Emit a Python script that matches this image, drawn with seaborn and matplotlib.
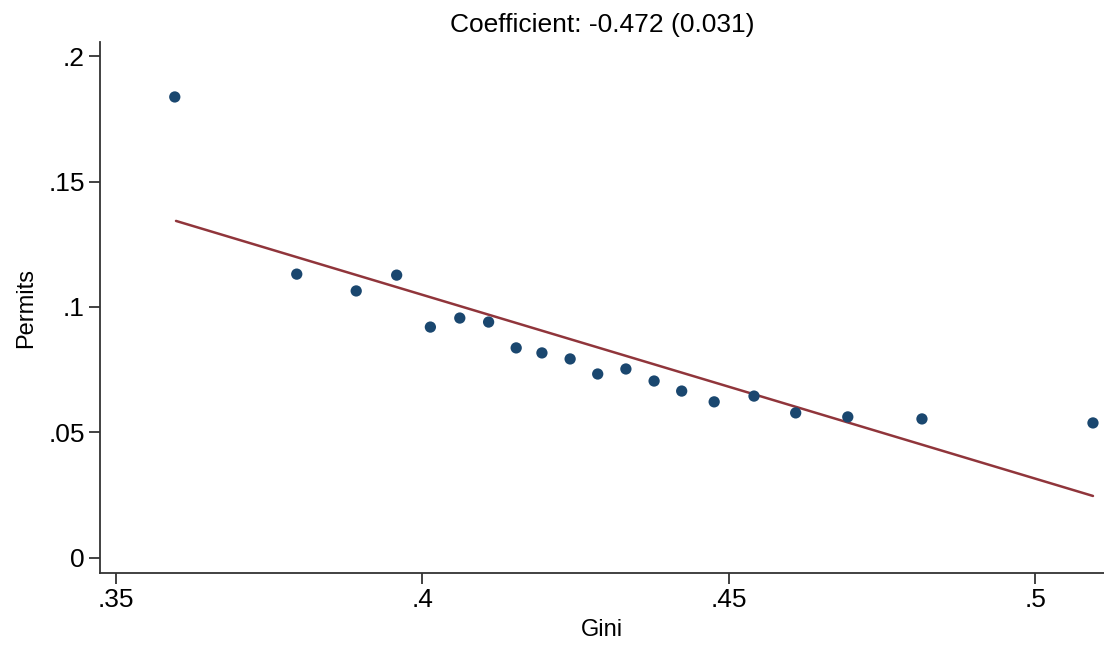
import matplotlib
matplotlib.use("Agg")
import matplotlib.pyplot as plt
import seaborn as sns
import pandas as pd

gini = [0.3596, 0.3795, 0.3892, 0.3958, 0.4013, 0.4061, 0.4108, 0.4153, 0.4195, 0.4241,
        0.4286, 0.4332, 0.4378, 0.4423, 0.4476, 0.4541, 0.4609, 0.4694, 0.4815, 0.5094]
permits = [0.1837, 0.1131, 0.1064, 0.1127, 0.0920, 0.0956, 0.0940, 0.0837, 0.0817, 0.0793,
           0.0733, 0.0753, 0.0705, 0.0665, 0.0622, 0.0645, 0.0578, 0.0562, 0.0554, 0.0538]
fit_x = [0.3598, 0.5094]
fit_y = [0.1343, 0.0247]
xticks = [0.35, 0.40, 0.45, 0.50]
xticklabels = [".35", ".4", ".45", ".5"]
yticks = [0.0, 0.05, 0.10, 0.15, 0.20]
yticklabels = ["0", ".05", ".1", ".15", ".2"]
title = "Coefficient: -0.472 (0.031)"

sns.set_style("white")
plt.rcParams['font.family'] = ['Liberation Sans', 'DejaVu Sans']
plt.rcParams['text.color'] = 'black'
plt.rcParams['axes.labelcolor'] = 'black'
plt.rcParams['xtick.color'] = 'black'
plt.rcParams['ytick.color'] = 'black'

df = pd.DataFrame({"Gini": gini, "Permits": permits})
fit = pd.DataFrame({"Gini": fit_x, "Permits": fit_y})

fig = plt.figure(figsize=(11.04, 6.46), dpi=100)
ax = fig.add_axes([100/1104, 1 - 573/646, 1 - 100/1104, (573 - 42)/646])

sns.scatterplot(data=df, x="Gini", y="Permits", ax=ax, color="#1a476f", s=66,
                edgecolor="none", zorder=3)
sns.lineplot(data=fit, x="Gini", y="Permits", ax=ax, color="#90353b", linewidth=1.8,
             zorder=2)

ax.set_xlim(0.3474, 0.5112)
ax.set_ylim(-0.006, 0.2056)
ax.set_xticks(xticks)
ax.set_xticklabels(xticklabels)
ax.set_yticks(yticks)
ax.set_yticklabels(yticklabels)
ax.tick_params(axis='both', which='major', length=8, width=1.3, color="#333333",
               labelcolor="black", labelsize=19, pad=3, direction='out',
               bottom=True, left=True)
for s in ["top", "right"]:
    ax.spines[s].set_visible(False)
for s in ["left", "bottom"]:
    ax.spines[s].set_color("#333333")
    ax.spines[s].set_linewidth(1.3)
ax.set_xlabel("Gini", fontsize=17, labelpad=5)
ax.set_ylabel("Permits", fontsize=17, labelpad=8)
ax.set_title(title, fontsize=19, pad=7)

fig.savefig("out.png", dpi=100)
